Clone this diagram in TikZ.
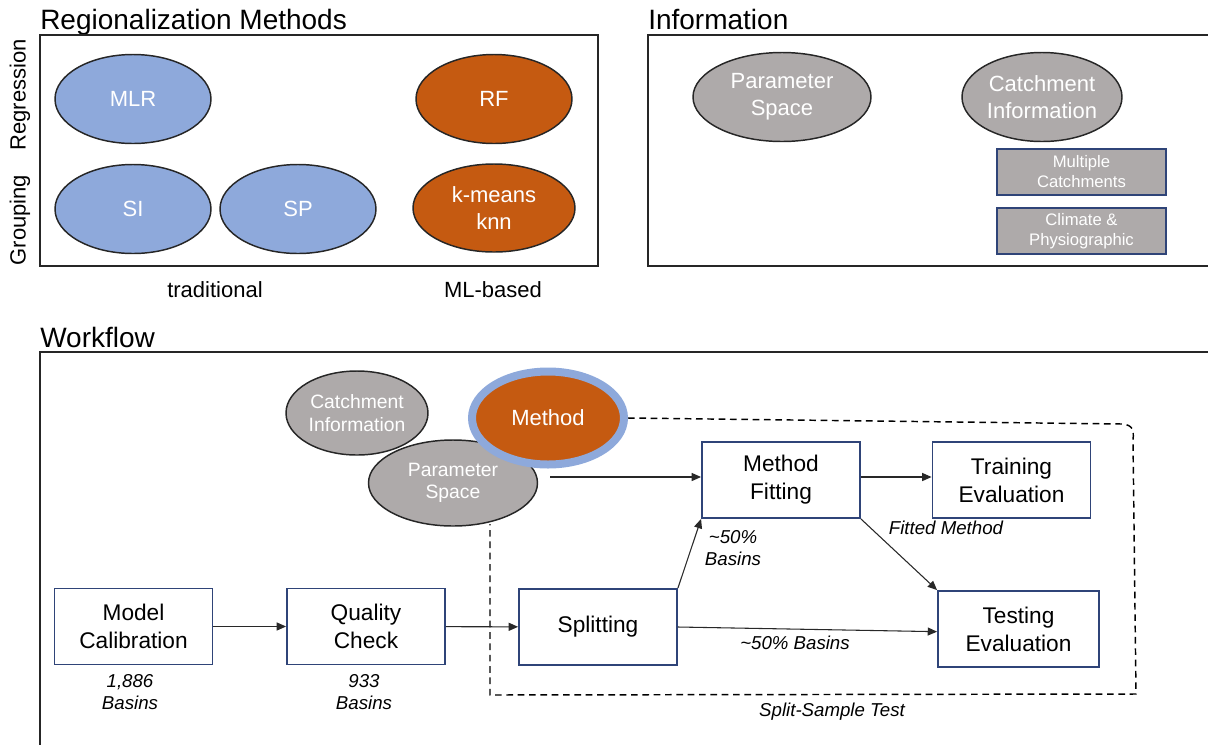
\documentclass[tikz,border=0pt]{standalone}
\usepackage{fontspec}
\setmainfont{Liberation Sans}
\usetikzlibrary{shapes.geometric,arrows.meta}

\definecolor{methblue}{RGB}{142,169,219}
\definecolor{methorange}{RGB}{197,90,17}
\definecolor{infogray}{RGB}{174,170,170}
\definecolor{boxnavy}{RGB}{47,68,120}
\definecolor{arrowgray}{RGB}{40,40,40}

\tikzset{
  panel/.style={line width=1.4pt, draw=black!85},
  paneltitle/.style={anchor=base west, inner sep=0pt, font=\fontsize{21}{24}\selectfont},
  oval/.style={ellipse, draw=black!85, line width=1.1pt, inner sep=0pt, text=white},
  trad/.style={oval, fill=methblue, minimum width=117pt, minimum height=66.75pt,
               font=\fontsize{16.5}{20}\selectfont},
  mlb/.style={oval, fill=methorange, minimum width=117pt, minimum height=66.75pt,
              font=\fontsize{16.5}{20}\selectfont},
  infoval/.style={oval, fill=infogray, font=\fontsize{16.5}{20}\selectfont, align=center},
  infobox/.style={rectangle, draw=boxnavy, line width=1.1pt, fill=infogray, text=white,
                  minimum width=126.75pt, minimum height=34.5pt, inner sep=0pt, align=center,
                  font=\fontsize{12.5}{15}\selectfont},
  stepbox/.style={rectangle, draw=boxnavy, line width=1.4pt, fill=white, align=center,
                  minimum width=118.5pt, minimum height=57pt, inner sep=0pt,
                  font=\fontsize{17}{21}\selectfont},
  flow/.style={draw=arrowgray, line width=0.8pt, -{Triangle[length=7pt,width=6pt]}},
  note/.style={align=center, inner sep=0pt, font=\fontsize{14}{17}\selectfont\itshape},
  axislabel/.style={inner sep=0pt, font=\fontsize{16.5}{20}\selectfont},
  splitline/.style={draw=black, line width=1.1pt, dash pattern=on 5pt off 3.5pt},
}

\begin{document}
\begin{tikzpicture}[x=0.75pt, y=-0.75pt]
\useasboundingbox (0,0) rectangle (1208,744);

% ---------- Regionalization Methods ----------
\node[paneltitle] (t1) at (40,29) {Regionalization Methods};
\draw[panel] (40,35) rectangle (598,266);
\node[axislabel, rotate=90] (lreg) at (20,95) {Regression};
\node[axislabel, rotate=90] (lgrp) at (20,220) {Grouping};
\node[trad] (mlr) at (133,99) {MLR};
\node[trad] (si) at (133,209) {SI};
\node[trad] (sp) at (298,209) {SP};
\node[mlb] (rf) at (494,99) {RF};
\node[mlb, minimum width=121.5pt, minimum height=66pt, align=center] (km) at (494,208) {k-means\\knn};
\node[axislabel] (ltrad) at (215,290) {traditional};
\node[axislabel] (lml) at (493,290) {ML-based};

% ---------- Information ----------
\node[paneltitle] (t2) at (648,29) {Information};
\draw[panel] (1210,35) -- (648,35) -- (648,266) -- (1210,266);
\node[infoval, minimum width=133.5pt, minimum height=66.75pt] (ps1) at (782,97) {Parameter\\Space};
\node[infoval, minimum width=120pt, minimum height=66.75pt] (ci1) at (1042,97) {Catchment\\Information};
\node[infobox] (mc) at (1081.5,172) {Multiple\\Catchments};
\node[infobox] (cp) at (1081.5,231) {Climate \&\\Physiographic};

% ---------- Workflow ----------
\node[paneltitle] (t3) at (40,347) {Workflow};
\draw[panel] (1210,352) -- (40,352) -- (40,746);

% split-sample test region
\draw[splitline] (628,418) -- (1122,424) .. controls (1133,425) and (1134,430) .. (1133,440)
  -- (1136,694) -- (490,695) -- (490,524);
\node[note] (sst) at (832,712) {Split-Sample Test};

% information and method ovals
\node[infoval, minimum width=106.5pt, minimum height=63pt, font=\fontsize{14.5}{17}\selectfont]
  (ci2) at (357,413) {Catchment\\Information};
\node[infoval, minimum width=126.75pt, minimum height=64.5pt, font=\fontsize{14.5}{17}\selectfont]
  (ps2) at (453,483) {Parameter\\Space};
\node[ellipse, draw=methblue, line width=6pt, fill=methorange, text=white,
      minimum width=114pt, minimum height=69.75pt, inner sep=0pt,
      font=\fontsize{16.5}{20}\selectfont] (meth) at (548,418) {Method};

% workflow steps
\node[stepbox] (cal) at (133.5,626.5) {Model\\Calibration};
\node[stepbox] (qc) at (366,626.5) {Quality\\Check};
\node[stepbox] (spl) at (598,627) {Splitting};
\node[stepbox] (fit) at (781,480) {Method\\Fitting};
\node[stepbox] (train) at (1011.5,480) {Training\\Evaluation};
\node[stepbox, minimum width=120.75pt] (test) at (1018.5,629) {Testing\\Evaluation};

\coordinate (psout) at (550,477);

\draw[flow] (cal) -- (qc);
\draw[flow] (qc) -- (spl);
\draw[flow] (psout) -- (fit.west |- psout);
\draw[flow] (fit.east |- psout) -- (train.west |- psout);
\draw[flow] (spl.north east) -- (fit.south west);
\draw[flow] (fit.south east) -- (test.north west);
\draw[flow] (spl.east) -- ([yshift=-2pt]test.west);

% annotations
\node[note] (n1) at (130,692) {1,886\\Basins};
\node[note] (n2) at (364,692) {933\\Basins};
\node[note] (n3) at (733,548) {\textasciitilde50\%\\Basins};
\node[note] (n4) at (946,528) {Fitted Method};
\node[note] (n5) at (795,643) {\textasciitilde50\% Basins};
\end{tikzpicture}
\end{document}
